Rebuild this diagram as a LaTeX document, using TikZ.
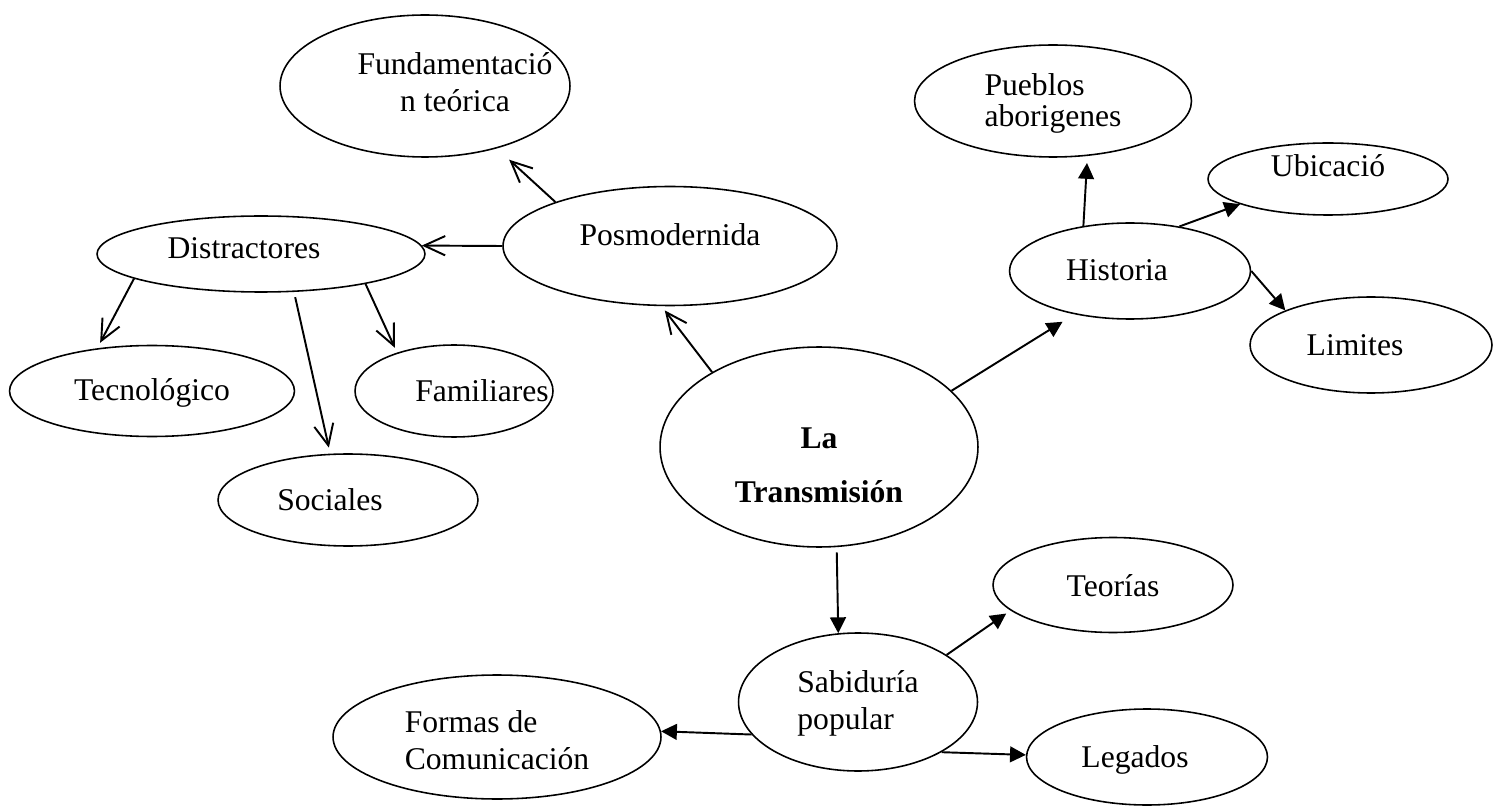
\documentclass[tikz,border=0pt]{standalone}
\usepackage{fontspec}
\setmainfont{Liberation Serif}
\usetikzlibrary{shapes.geometric,arrows.meta}

\begin{document}
\begin{tikzpicture}
  [x=0.02cm,y=-0.02cm,
   every node/.style={ellipse,draw,line width=0.9pt,inner sep=0pt,
     text height=15.5pt,font=\fontsize{18}{21.5}\selectfont},
   barb/.style={-{Straight Barb[length=12pt,width=11pt]},line width=1.1pt},
   tri/.style={-{Triangle[length=9pt,width=9pt]},line width=1.1pt}]
  \useasboundingbox (0,0) rectangle (1503,810);

  % left side
  \node[minimum width=5.8cm,minimum height=2.84cm,text height=30pt,text depth=0.5pt,align=center] (fund) at (425,86) {Fundamentació\hspace*{-1.2cm}\\n teórica\hspace*{-1.2cm}};
  \node[minimum width=6.68cm,minimum height=2.38cm,text depth=16.6pt] (pos) at (670,246) {Posmodernida};
  \node[minimum width=6.56cm,minimum height=1.52cm,text depth=10.9pt] (dis) at (261,254) {\hspace*{-0.68cm}Distractores};
  \node[minimum width=5.7cm,minimum height=1.82cm,text depth=5.2pt] (tec) at (152,391) {Tecnológico};
  \node[minimum width=3.96cm,minimum height=1.84cm,text depth=4pt] (fam) at (454,391) {Familiares\hspace*{-1.12cm}};
  \node[minimum width=5.2cm,minimum height=1.84cm,text depth=3pt] (soc) at (348,500) {\hspace*{-0.72cm}Sociales};

  % centre
  \node[minimum width=6.36cm,minimum height=4cm,text height=64pt,text depth=0.5pt,align=center,
        font=\fontsize{18}{21.5}\selectfont\bfseries] (tra) at (819,447) {La\\[9.5pt]Transmisión};

  % right side
  \node[minimum width=5.54cm,minimum height=2.24cm,text height=30pt,text depth=0.5pt,align=left] (pue) at (1053,101) {Pueblos\\[-3.5pt]aborigenes};
  \node[minimum width=4.8cm,minimum height=1.44cm,text height=8.5pt,text depth=11.8pt] (ubi) at (1328,179) {Ubicació};
  \node[minimum width=4.82cm,minimum height=1.92cm,text depth=5.2pt] (his) at (1130,271) {\hspace*{-0.52cm}Historia};
  \node[minimum width=4.84cm,minimum height=1.92cm,text depth=4pt] (lim) at (1371,345) {\hspace*{-0.64cm}Limites};

  % bottom
  \node[minimum width=4.8cm,minimum height=1.9cm,text depth=2.4pt] (teo) at (1113,585) {Teorías};
  \node[minimum width=4.78cm,minimum height=2.76cm,text height=32pt,text depth=0.2pt,align=left] (sab) at (858,702) {Sabiduría\\popular};
  \node[minimum width=6.56cm,minimum height=2.48cm,text height=38pt,text depth=0.6pt,align=left] (for) at (497,737) {Formas de\\Comunicación};
  \node[minimum width=4.82cm,minimum height=1.92cm,text depth=4pt] (leg) at (1147,757) {\hspace*{-0.48cm}Legados};

  \foreach \from/\to/\sa/\sb in {pos.159/fund.-41/0/9.5,pos.180/dis.3/0/0,
      dis.191/tec.142/0/3.5,dis.-49/soc.111/3/3.5,dis.-16/fam.146/0/3,tra.145/pos.-98/0/3}
    \draw[barb,shorten <=\sa pt,shorten >=\sb pt] (\from) -- (\to);

  \foreach \from/\to/\sa/\sb in {tra.23/his.-142/0/8,his.136/pue.-58/0/4,his.42/ubi.-164/0/0,
      his.0/lim.158/0/0,tra.-80/sab.106/3/0,sab.28/teo.-166/0/3,sab.197/for.2/0/0,sab.-31/leg.179/0/0}
    \draw[tri,shorten <=\sa pt,shorten >=\sb pt] (\from) -- (\to);

\end{tikzpicture}
\end{document}
